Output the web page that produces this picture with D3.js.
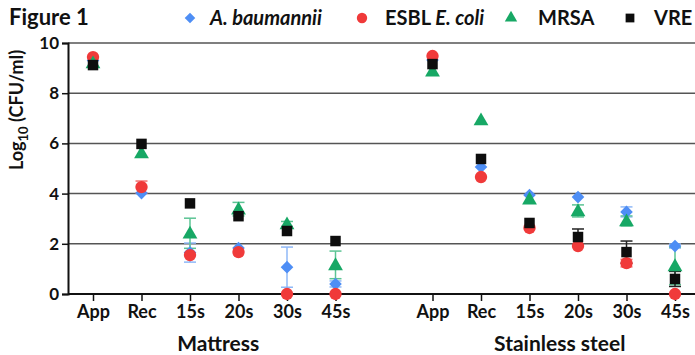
<!DOCTYPE html>
<html>
<head>
<meta charset="utf-8">
<script src="https://cdn.jsdelivr.net/npm/d3@7"></script>
<style>
  body { margin: 0; background: #fff; }
  text { font-family: Lato, "Open Sans", sans-serif; font-weight: bold; fill: #111; }
</style>
</head>
<body>
<div id="chart"></div>
<script>
// Data (log10 CFU/ml)
let slots = ['M-App', 'M-Rec', 'M-15s', 'M-20s', 'M-30s', 'M-45s', 'gap',
             'S-App', 'S-Rec', 'S-15s', 'S-20s', 'S-30s', 'S-45s']
let tickLabels = ['App', 'Rec', '15s', '20s', '30s', '45s', '',
                  'App', 'Rec', '15s', '20s', '30s', '45s']
let groups = ['Mattress', 'Stainless steel']

let baumannii = [9.3, 4.02, 1.65, 1.83, 1.07, 0.4, null, 9.32, 5.06, 3.94, 3.86, 3.27, 1.91]
let baumanniiErr = [0, 0, 0.38, 0, 0.8, 0.12, null, 0, 0, 0, 0, 0.2, 0.08]
let ecoli = [9.44, 4.26, 1.55, 1.67, 0, 0, null, 9.48, 4.66, 2.63, 1.91, 1.23, 0]
let ecoliErr = [0, 0.24, 0, 0, 0, 0, null, 0, 0, 0, 0, 0.15, 0]
let mrsa = [9.2, 5.62, 2.42, 3.38, 2.79, 1.16, null, 8.88, 6.93, 3.78, 3.31, 2.91, 1.12]
let mrsaErr = [0, 0, 0.6, 0.27, 0.1, 0.55, null, 0, 0, 0, 0.24, 0.2, 0.75]
let vre = [9.12, 5.98, 3.61, 3.1, 2.51, 2.11, null, 9.16, 5.38, 2.83, 2.27, 1.67, 0.6]
let vreErr = [0, 0, 0, 0, 0, 0, null, 0, 0, 0, 0.32, 0.44, 0.3]

let yTicks = [0, 2, 4, 6, 8, 10]

let series = [
  { name: 'A. baumannii', values: baumannii, err: baumanniiErr, color: '#4e8ef5', errColor: '#8fb8f7', symbol: d3.symbolSquare, size: 80, rot: 45 },
  { name: 'ESBL E. coli', values: ecoli, err: ecoliErr, color: '#f03a3a', errColor: '#f27070', symbol: d3.symbolCircle, size: 120, rot: 0 },
  { name: 'MRSA', values: mrsa, err: mrsaErr, color: '#17a865', errColor: '#5cc494', symbol: d3.symbolTriangle, size: 95, rot: 0 },
  { name: 'VRE', values: vre, err: vreErr, color: '#0d0d0d', errColor: '#222', symbol: d3.symbolSquare, size: 110, rot: 0 }
]

let width = 695
let height = 355

let svg = d3.select('#chart').append('svg')
  .attr('width', width)
  .attr('height', height)

let x = d3.scalePoint()
  .domain(slots)
  .range([93, 675])

let y = d3.scaleLinear()
  .domain([0, 10])
  .range([294, 43])

let plotLeft = 68
let plotRight = 695

// grid lines
svg.append('g')
  .selectAll('line')
  .data(yTicks.filter(t => t > 0))
  .join('line')
  .attr('x1', plotLeft)
  .attr('x2', plotRight)
  .attr('y1', d => y(d))
  .attr('y2', d => y(d))
  .attr('stroke', '#555')
  .attr('stroke-width', 1.5)

// y axis
let yAxis = svg.append('g')
  .attr('transform', `translate(${plotLeft},0)`)
  .call(d3.axisLeft(y).tickValues(yTicks).tickSize(6).tickPadding(3))
yAxis.select('.domain').attr('stroke', '#111').attr('stroke-width', 2)
yAxis.selectAll('.tick line').attr('stroke', '#111').attr('stroke-width', 1.5)
yAxis.selectAll('.tick text').style('font-size', '17px').attr('fill', '#111')

// x axis
let xAxis = svg.append('g')
  .attr('transform', `translate(0,${y(0)})`)
  .call(d3.axisBottom(x)
    .tickValues(slots.filter(s => s !== 'gap'))
    .tickFormat(s => tickLabels[slots.indexOf(s)])
    .tickSize(7).tickSizeOuter(0).tickPadding(4))
xAxis.select('.domain')
  .attr('d', `M${plotLeft},0H${plotRight}`)
  .attr('stroke', '#111').attr('stroke-width', 2)
xAxis.selectAll('.tick line').attr('stroke', '#111').attr('stroke-width', 1.5)
xAxis.selectAll('.tick text').style('font-size', '18px').attr('fill', '#111')

// group labels
svg.selectAll('.groupLabel')
  .data(groups)
  .join('text')
  .attr('class', 'groupLabel')
  .attr('x', (d, i) => i === 0 ? (x('M-20s') + x('M-15s')) / 2 + 4 : (x('S-20s') + x('S-15s')) / 2 + 6)
  .attr('y', 351)
  .attr('text-anchor', 'middle')
  .style('font-size', '21px')
  .text(d => d)

// y label
let yLabel = svg.append('text')
  .attr('transform', 'translate(23,110) rotate(-90)')
  .attr('text-anchor', 'middle')
  .style('font-size', '18px')
yLabel.append('tspan').text('Log')
yLabel.append('tspan').attr('dy', 5).style('font-size', '13px').text('10')
yLabel.append('tspan').attr('dy', -5).text(' (CFU/ml)')

// title
svg.append('text')
  .attr('x', 9)
  .attr('y', 25)
  .style('font-size', '22px')
  .text('Figure 1')

// error bars
series.forEach(s => {
  let pts = slots.map((slot, i) => ({ slot: slot, v: s.values[i], e: s.err[i] }))
    .filter(p => p.v !== null && p.e > 0)

  let eb = svg.append('g')
  pts.forEach(p => {
    let cx = x(p.slot)
    eb.append('line')
      .attr('x1', cx).attr('x2', cx)
      .attr('y1', y(p.v - p.e)).attr('y2', y(p.v + p.e))
      .attr('stroke', s.errColor).attr('stroke-width', 1.5)
    ;[p.v - p.e, p.v + p.e].forEach(v => {
      eb.append('line')
        .attr('x1', cx - 6).attr('x2', cx + 6)
        .attr('y1', y(v)).attr('y2', y(v))
        .attr('stroke', s.errColor).attr('stroke-width', 1.5)
    })
  })
})

// points
series.forEach(s => {
  let pts = slots.map((slot, i) => ({ slot: slot, v: s.values[i] }))
    .filter(p => p.v !== null)
  svg.append('g')
    .selectAll('path')
    .data(pts)
    .join('path')
    .attr('d', d3.symbol().type(s.symbol).size(s.size))
    .attr('transform', d => `translate(${x(d.slot)},${y(d.v) + (s.symbol === d3.symbolTriangle ? 1 : 0)}) rotate(${s.rot})`)
    .attr('fill', s.color)
})

// legend
let legendItems = [
  { x: 190, tx: 210, parts: [{ t: 'A. baumannii', it: true }] },
  { x: 362, tx: 385, parts: [{ t: 'ESBL ', it: false }, { t: 'E. coli', it: true }] },
  { x: 511, tx: 538, parts: [{ t: 'MRSA', it: false }] },
  { x: 630, tx: 654, parts: [{ t: 'VRE', it: false }] }
]
legendItems.forEach((li, i) => {
  let s = series[i]
  svg.append('path')
    .attr('d', d3.symbol().type(s.symbol).size(s.size * 0.7))
    .attr('transform', `translate(${li.x},18) rotate(${s.rot})`)
    .attr('fill', s.color)
  let t = svg.append('text')
    .attr('x', li.tx)
    .attr('y', 25)
    .style('font-size', '20px')
  li.parts.forEach(p => {
    t.append('tspan').style('font-style', p.it ? 'italic' : 'normal').text(p.t)
  })
})
</script>
</body>
</html>
